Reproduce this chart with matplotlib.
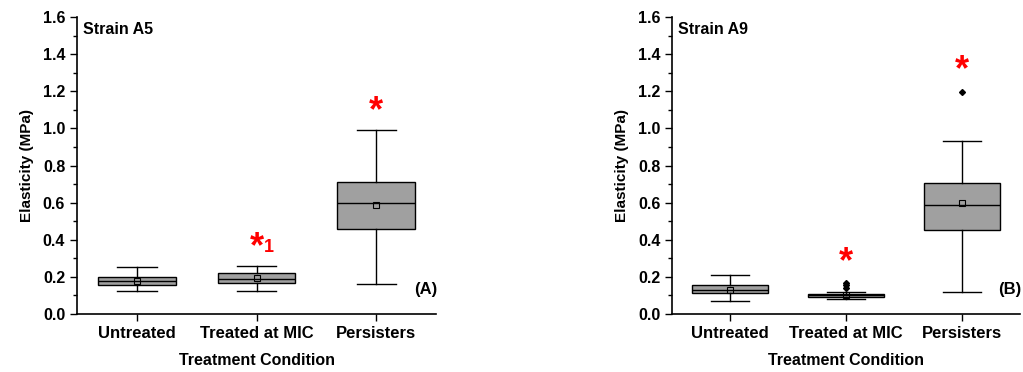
import matplotlib
matplotlib.use("Agg")
import matplotlib.pyplot as plt
from matplotlib.ticker import MultipleLocator

plt.rcParams['font.family'] = ['Liberation Sans', 'DejaVu Sans']
plt.rcParams['font.weight'] = 'bold'

categories = ["Untreated", "Treated at MIC", "Persisters"]

# A5: whisker low, q1, median, q3, whisker high, mean
a5_wlo = [0.125, 0.125, 0.16]
a5_q1 = [0.155, 0.165, 0.46]
a5_med = [0.175, 0.19, 0.60]
a5_q3 = [0.198, 0.22, 0.71]
a5_whi = [0.255, 0.26, 0.99]
a5_mean = [0.18, 0.195, 0.59]
a5_fliers = [[], [], []]

# A9
a9_wlo = [0.07, 0.08, 0.12]
a9_q1 = [0.115, 0.09, 0.45]
a9_med = [0.13, 0.10, 0.59]
a9_q3 = [0.155, 0.11, 0.705]
a9_whi = [0.21, 0.12, 0.93]
a9_mean = [0.13, 0.10, 0.60]
a9_fliers = [[], [0.14, 0.155, 0.165], [1.195]]

# significance stars (x, y, text)
a5_stars = [(2, 0.356, "*"), (3, 1.088, "*")]
a9_stars = [(2, 0.275, "*"), (3, 1.309, "*")]


def make_stats(wlo, q1, med, q3, whi, mean, fliers):
    out = []
    for i in range(len(wlo)):
        out.append(dict(whislo=wlo[i], q1=q1[i], med=med[i], q3=q3[i],
                        whishi=whi[i], mean=mean[i], fliers=fliers[i]))
    return out


def draw(ax, stats, stars, strain, panel, sub1=False):
    ax.bxp(stats, positions=[1, 2, 3], widths=0.65, patch_artist=True,
           showmeans=True, showfliers=True,
           boxprops=dict(facecolor='#a0a0a0', edgecolor='black', linewidth=1.0),
           medianprops=dict(color='black', linewidth=1.0),
           whiskerprops=dict(color='black', linewidth=1.0),
           capprops=dict(color='black', linewidth=1.0),
           capwidths=0.33,
           meanprops=dict(marker='s', markersize=4, markerfacecolor='none',
                          markeredgecolor='black', markeredgewidth=0.8),
           flierprops=dict(marker='D', markersize=3, markerfacecolor='black',
                           markeredgecolor='black'))
    ax.set_xlim(0.5, 3.5)
    ax.set_ylim(0, 1.6)
    ax.set_xticks([1, 2, 3])
    ax.set_xticklabels(categories, fontsize=12, fontweight='bold')
    ax.yaxis.set_major_locator(MultipleLocator(0.2))
    ax.yaxis.set_minor_locator(MultipleLocator(0.1))
    ax.set_yticklabels([f"{v:.1f}" for v in ax.get_yticks()], fontsize=11.5, fontweight='bold')
    ax.tick_params(direction='out', length=5, width=1)
    ax.tick_params(which='minor', direction='out', length=3, width=1)
    ax.spines['top'].set_visible(False)
    ax.spines['right'].set_visible(False)
    ax.spines['left'].set_linewidth(1.2)
    ax.spines['bottom'].set_linewidth(1.2)
    ax.set_xlabel("Treatment Condition", fontsize=11.5, fontweight='bold', labelpad=9)
    ax.set_ylabel("Elasticity (MPa)", fontsize=11, fontweight='bold', labelpad=6)
    ax.text(0.55, 1.575, strain, fontsize=11.5, fontweight='bold', va='top')
    ax.text(3.51, 0.13, panel, fontsize=12, fontweight='bold', ha='right', va='center')
    for x, y, s in stars:
        ax.text(x, y, s, color='red', fontsize=26, fontweight='bold', ha='center', va='center')
    if sub1:
        ax.text(2.06, 0.36, "1", color='red', fontsize=13, fontweight='bold', ha='left', va='center')


fig = plt.figure(figsize=(10.23, 3.72), dpi=100)
ax1 = fig.add_axes([0.0753, 0.156, 0.351, 0.798])
ax2 = fig.add_axes([0.657, 0.156, 0.340, 0.798])

draw(ax1, make_stats(a5_wlo, a5_q1, a5_med, a5_q3, a5_whi, a5_mean, a5_fliers),
     a5_stars, "Strain A5", "(A)", sub1=True)
draw(ax2, make_stats(a9_wlo, a9_q1, a9_med, a9_q3, a9_whi, a9_mean, a9_fliers),
     a9_stars, "Strain A9", "(B)")

fig.savefig("out.png", dpi=100)
